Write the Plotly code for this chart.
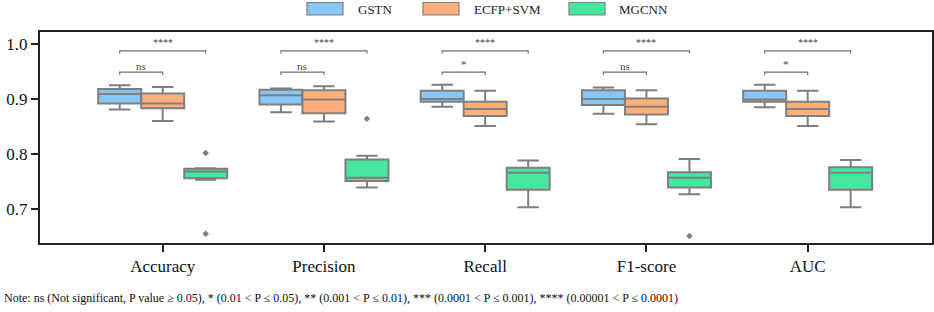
import plotly.graph_objects as go

# ---------------- data ----------------
metrics = ["Accuracy", "Precision", "Recall", "F1-score", "AUC"]
models = ["GSTN", "ECFP+SVM", "MGCNN"]

gstn_low = [0.881, 0.876, 0.886, 0.873, 0.885]
gstn_q1 = [0.892, 0.890, 0.895, 0.889, 0.895]
gstn_med = [0.909, 0.907, 0.900, 0.900, 0.899]
gstn_q3 = [0.918, 0.917, 0.915, 0.916, 0.915]
gstn_high = [0.925, 0.919, 0.926, 0.921, 0.926]

ecfp_low = [0.860, 0.859, 0.851, 0.854, 0.851]
ecfp_q1 = [0.883, 0.874, 0.869, 0.872, 0.869]
ecfp_med = [0.892, 0.899, 0.882, 0.886, 0.882]
ecfp_q3 = [0.910, 0.916, 0.895, 0.901, 0.895]
ecfp_high = [0.922, 0.923, 0.915, 0.916, 0.915]

mgcnn_low = [0.753, 0.739, 0.703, 0.727, 0.703]
mgcnn_q1 = [0.756, 0.751, 0.735, 0.739, 0.735]
mgcnn_med = [0.768, 0.757, 0.766, 0.757, 0.766]
mgcnn_q3 = [0.773, 0.790, 0.775, 0.767, 0.776]
mgcnn_high = [0.774, 0.797, 0.788, 0.791, 0.789]

# outliers (metric index, value) for MGCNN
mgcnn_outlier_metric = [0, 0, 1, 3]
mgcnn_outlier_value = [0.802, 0.655, 0.864, 0.651]

# significance labels: GSTN vs ECFP+SVM, GSTN vs MGCNN
sig_inner = ["ns", "ns", "*", "ns", "*"]
sig_outer = ["****", "****", "****", "****", "****"]

note = ("Note: ns (Not significant, P value \u2265 0.05), * (0.01 < P \u2264 0.05), "
        "** (0.001 < P \u2264 0.01), *** (0.0001 < P \u2264 0.001), "
        "**** (0.00001 < P \u2264 0.0001)")

# ---------------- style ----------------
colors = ["#88C6F6", "#FFB07D", "#46E5A0"]
edge = "#7f7f7f"
FONT = "Liberation Serif, Times New Roman, Times, serif"
bw = 0.8 / 3
offsets = [-bw, 0.0, bw]

stats = [
    (gstn_low, gstn_q1, gstn_med, gstn_q3, gstn_high),
    (ecfp_low, ecfp_q1, ecfp_med, ecfp_q3, ecfp_high),
    (mgcnn_low, mgcnn_q1, mgcnn_med, mgcnn_q3, mgcnn_high),
]

fig = go.Figure()
for k, (name, col, st) in enumerate(zip(models, colors, stats)):
    lo, q1, med, q3, hi = st
    xs = [i + offsets[k] for i in range(len(metrics))]
    fig.add_trace(go.Box(
        name=name, x=xs, q1=q1, median=med, q3=q3,
        lowerfence=lo, upperfence=hi,
        width=bw, whiskerwidth=0.5,
        fillcolor=col, line=dict(color=edge, width=2),
        boxpoints=False, showlegend=False, hoverinfo="skip",
    ))

fig.add_trace(go.Scatter(
    x=[m + offsets[2] for m in mgcnn_outlier_metric], y=mgcnn_outlier_value,
    mode="markers", marker=dict(symbol="diamond", size=5, color=edge),
    showlegend=False, hoverinfo="skip",
))

# significance brackets
shapes = []
annotations = []
inner_y, inner_tick = 0.949, 0.9435
outer_y, outer_tick = 0.9875, 0.9825
bcol = "#6e6e6e"
for i in range(len(metrics)):
    x0 = i + offsets[0]
    x1 = i + offsets[1]
    x2 = i + offsets[2]
    for xa, xb, yl, yt in [(x0, x1, inner_y, inner_tick), (x0, x2, outer_y, outer_tick)]:
        shapes.append(dict(type="path", xref="x", yref="y",
                           path=f"M {xa},{yt} L {xa},{yl} L {xb},{yl} L {xb},{yt}",
                           line=dict(color=bcol, width=1.2)))
    lab = sig_inner[i]
    annotations.append(dict(x=(x0 + x1) / 2, y=0.9605 if lab == "ns" else 0.9645,
                            xref="x", yref="y", text=lab, showarrow=False,
                            font=dict(family=FONT, size=11, color="#444444"),
                            yanchor="middle"))
    annotations.append(dict(x=(x0 + x2) / 2, y=1.0025, xref="x", yref="y",
                            text=sig_outer[i], showarrow=False,
                            font=dict(family=FONT, size=10, color="#444444"),
                            yanchor="middle"))

# manual legend (pixel layout converted to paper coords)
L, R, T, B = 40, 932, 32, 243
def px(x):
    return (x - L) / (R - L)
def py(y):
    return (B - y) / (B - T)

leg_patch_x = [307, 423, 569]
leg_text_x = [356, 472, 617]
for k, name in enumerate(models):
    shapes.append(dict(type="rect", xref="paper", yref="paper",
                       x0=px(leg_patch_x[k]), x1=px(leg_patch_x[k] + 36),
                       y0=py(15), y1=py(2.5),
                       fillcolor=colors[k], line=dict(color=edge, width=1.2)))
    annotations.append(dict(x=px(leg_text_x[k]), y=py(9), xref="paper", yref="paper",
                            text=name, showarrow=False, xanchor="left", yanchor="middle",
                            font=dict(family=FONT, size=13, color="#222222")))

annotations.append(dict(x=px(2), y=py(298), xref="paper", yref="paper", text=note,
                        showarrow=False, xanchor="left", yanchor="middle",
                        font=dict(family=FONT, size=12, color="#111111")))

fig.update_layout(
    width=934, height=312,
    margin=dict(l=L, r=934 - R, t=T, b=312 - B, pad=0, autoexpand=False),
    paper_bgcolor="white", plot_bgcolor="white",
    shapes=shapes, annotations=annotations,
    font=dict(family=FONT, color="#111111"),
    showlegend=False,
)
fig.update_xaxes(
    range=[-0.761, 4.771], tickvals=list(range(len(metrics))), ticktext=metrics,
    showgrid=False, zeroline=False, showline=True, linecolor="#222222", linewidth=2,
    mirror=True, ticks="outside", ticklen=7, tickwidth=2, tickcolor="#222222",
    tickfont=dict(family=FONT, size=17, color="#111111"), automargin=False,
)
fig.update_yaxes(
    range=[0.6382, 1.0218], tickvals=[0.7, 0.8, 0.9, 1.0], ticktext=["0.7", "0.8", "0.9", "1.0"],
    showgrid=False, zeroline=False, showline=True, linecolor="#222222", linewidth=2,
    mirror=True, ticks="outside", ticklen=7, tickwidth=2, tickcolor="#222222",
    tickfont=dict(family=FONT, size=17, color="#111111"), automargin=False,
)

fig.write_html("out.html", config={"displayModeBar": False},
               post_script="document.body.style.margin='0';document.body.style.overflow='hidden';")
